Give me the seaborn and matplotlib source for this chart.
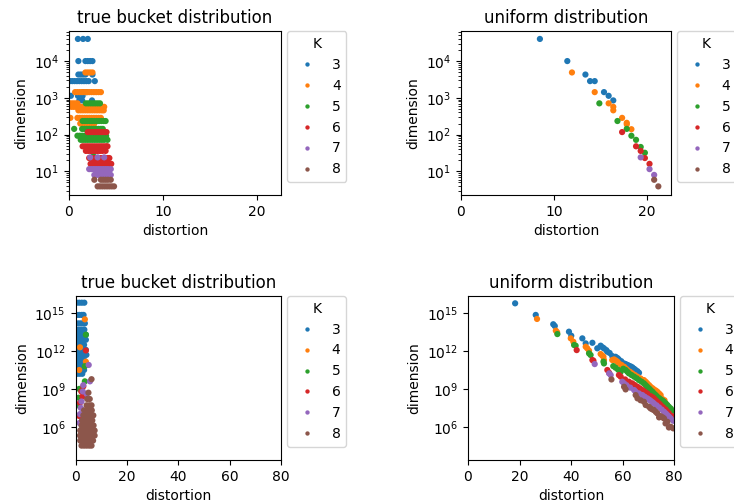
import numpy as np
import pandas as pd
import matplotlib
matplotlib.use("Agg")
import matplotlib.pyplot as plt
from matplotlib.ticker import NullLocator
import seaborn as sns

K_LEVELS = ["3", "4", "5", "6", "7", "8"]

# ---------------------------------------------------------------------------
# true bucket distribution, small dimensions  {dimension: [distortions]}
tb_small_k3 = {40000: [0.95, 1.5, 2.0],
               10000: [1.0, 1.75, 2.0, 2.25, 2.5],
               4300: [1.0, 1.25, 1.5, 1.75, 2.5],
               2850: [0.1, 0.35, 0.6, 0.85, 1.1, 1.35, 1.6, 1.85, 2.1, 2.75],
               1430: [1.5, 1.9],
               1135: [0.2, 0.95, 1.45],
               850: [1.1, 1.4, 2.45]}
tb_small_k4 = {4900: [1.75, 2.0, 2.25, 2.5],
               1430: [0.65, 0.9, 1.15, 1.4, 1.65, 1.9, 2.15, 2.4, 2.65, 2.9, 3.15, 3.4],
               708: [0.15, 0.4, 0.65, 0.9],
               569: [0.25, 0.5, 0.75, 1.0, 1.25, 1.5, 1.75, 2.0, 2.25, 2.5, 2.75, 3.0, 3.25, 3.5, 3.75],
               457: [1.0, 1.25, 1.5, 1.75, 2.0, 2.25, 2.5, 2.75, 3.0, 3.25, 3.5, 3.7],
               285: [0.15, 0.9, 1.15, 1.4, 1.65, 1.9, 2.15, 2.4, 2.65, 2.9, 3.15, 3.4],
               200: [1.2, 1.45, 1.7, 1.95, 2.2, 2.45, 2.7]}
tb_small_k5 = {708: [1.8, 2.05, 2.3, 2.55, 2.8, 3.05, 3.3],
               234: [1.45, 1.7, 1.95, 2.2, 2.45, 2.7, 2.95, 3.2, 3.45, 3.7, 3.9],
               143: [0.55, 1.4, 1.65, 1.9, 2.15, 2.4, 2.65, 2.9, 3.15, 3.4, 3.6],
               93: [0.9, 1.15, 1.4, 1.65, 1.9, 2.15, 2.4, 2.65, 2.9, 3.15, 3.4, 3.65, 3.95],
               72: [1.25, 1.5, 1.75, 2.0, 2.25, 2.5, 2.75, 3.0, 3.25, 3.5, 3.75, 4.1],
               32: [2.6]}
tb_small_k6 = {117: [2.0, 2.25, 2.5, 2.75, 3.0, 3.25, 3.5, 3.75, 4.0],
               48: [1.45, 1.7, 1.95, 2.2, 2.45, 2.7, 2.95, 3.2, 3.45, 3.7, 3.95, 4.1],
               36: [1.8, 2.05, 2.3, 2.55, 2.8, 3.05, 3.3, 3.55, 3.9],
               23: [2.15, 2.4, 2.65, 2.9, 3.15, 3.4, 3.65, 3.9, 4.15, 4.3],
               16: [2.3, 2.55, 2.8, 3.05, 3.3, 3.55, 3.8, 4.05, 4.3, 4.5]}
tb_small_k7 = {24: [2.25, 3.05, 3.75],
               11.5: [2.15, 2.4, 2.65, 2.9, 3.15, 3.4, 3.65, 3.9, 4.15, 4.45],
               8: [2.7, 2.95, 3.2, 3.45, 3.7, 3.95, 4.2, 4.45]}
tb_small_k8 = {5.9: [2.7, 3.4, 3.65, 3.9, 4.15, 4.45],
               3.9: [3.05, 3.3, 3.55, 3.8, 4.05, 4.3, 4.55, 4.8]}

# uniform distribution, small dimensions  (distortion, dimension)
uni_small_k3 = [(8.5, 40000), (11.45, 10000), (13.4, 4300), (13.9, 2850),
                (14.4, 2850), (15.4, 1430), (15.9, 1135), (16.4, 850)]
uni_small_k4 = [(11.95, 4900), (14.4, 1430), (15.9, 708), (16.4, 569), (16.4, 457),
                (17.35, 285), (17.85, 209), (17.85, 190), (18.35, 140)]
uni_small_k5 = [(14.9, 708), (16.85, 234), (17.85, 143), (18.35, 93),
                (18.85, 72), (19.35, 46), (19.8, 32)]
uni_small_k6 = [(17.35, 117), (18.85, 48), (19.35, 36), (19.8, 23), (20.3, 16)]
uni_small_k7 = [(19.35, 24), (20.3, 11.5), (20.8, 8)]
uni_small_k8 = [(20.8, 5.9), (21.25, 3.9)]

# true bucket distribution, large dimensions  {log10 dimension: [distortions]}
tb_large_k3 = {15.84: [0.4, 1.4, 2.4, 3.4],
               14.87: [0.4, 1.4, 2.4, 3.1],
               14.2: [1.0, 2.0, 3.0, 3.6],
               13.7: [0.4, 1.4, 2.4, 3.4],
               13.3: [0.3, 1.3, 2.3, 3.3, 4.0],
               12.9: [0.2, 1.2, 2.2, 3.2, 4.0],
               12.5: [0.3, 1.3, 2.3, 3.3],
               12.1: [0.2, 1.2, 2.2, 3.2, 4.0],
               11.7: [0.3, 1.3, 2.3, 3.3, 4.2],
               11.3: [0.2, 1.2, 2.2, 3.2],
               10.9: [0.2, 1.2, 2.2, 3.2, 4.0],
               10.5: [0.3, 1.3, 2.3, 3.3],
               10.2: [0.6, 1.6, 2.6]}
tb_large_k4 = {14.52: [3.6], 12.3: [1.7], 11.16: [4.0], 10.5: [1.4]}
tb_large_k5 = {13.3: [4.0], 10.8: [3.6], 9.6: [3.6], 9.0: [1.4], 8.3: [1.2], 7.7: [1.0]}
tb_large_k6 = {12.05: [4.0], 9.2: [3.0], 8.8: [2.2], 8.4: [2.7], 7.9: [1.7], 6.85: [1.4]}
tb_large_k7 = {10.9: [5.1], 9.6: [5.6], 9.3: [3.0], 8.8: [2.8], 8.6: [4.3],
               8.0: [2.3], 7.5: [2.0], 7.0: [1.7], 6.3: [1.5]}
tb_large_k8 = {9.77: [6.2],
               8.7: [5.0],
               8.2: [4.5, 5.5],
               7.7: [4.3, 5.3, 6.2],
               7.3: [3.3, 4.3, 5.3, 6.3],
               6.9: [3.0, 4.0, 5.0, 6.0, 6.9],
               6.5: [2.5, 3.5, 4.5, 5.5, 6.5],
               6.1: [2.3, 3.3, 4.3, 5.3, 6.3, 7.0],
               5.7: [1.8, 2.8, 3.8, 4.8, 5.8, 6.8, 7.4],
               5.3: [1.7, 2.7, 3.7, 4.7, 5.7, 6.7, 7.4],
               4.9: [1.8, 2.8, 3.8, 4.8, 5.8, 6.8],
               4.5: [2.3, 3.3, 4.3, 5.3, 6.2]}

# uniform distribution, large dimensions  (distortion, log10 dimension)
uni_large_k3 = [(18.3, 15.79), (26.3, 14.87), (33.1, 14.13), (33.7, 13.99),
                (39.2, 13.54), (40.1, 13.22), (44.4, 13.01), (45.7, 12.61),
                (48.3, 12.66), (50.2, 12.22), (51.5, 12.43), (52.2, 12.3),
                (52.8, 12.22), (53.7, 12.08), (54.1, 11.95), (55.0, 11.85),
                (56.0, 11.61), (57.3, 11.55), (58.0, 11.45), (58.5, 11.35),
                (59.5, 11.2), (60.6, 11.02), (61.2, 10.97), (61.9, 10.9),
                (62.5, 10.84), (63.2, 10.78), (63.8, 10.71), (64.5, 10.6),
                (65.1, 10.5), (65.8, 10.4), (66.4, 10.28)]
uni_large_k4 = [(26.8, 14.55), (34.1, 13.62), (34.6, 13.5), (39.9, 13.01),
                (40.9, 12.74), (45.7, 12.35), (46.3, 12.22), (47.0, 12.03),
                (51.5, 11.77), (52.1, 11.65), (52.6, 11.55), (52.8, 11.29),
                (56.0, 11.29), (56.7, 11.34), (57.4, 11.25), (58.0, 11.16),
                (58.6, 11.02), (59.6, 10.9), (60.6, 10.76), (61.3, 10.62),
                (61.9, 10.5), (62.9, 10.36), (63.8, 10.23), (64.8, 10.1),
                (65.8, 9.97), (67.0, 9.83), (68.3, 9.7), (69.0, 9.57),
                (69.6, 9.44), (70.3, 9.3), (70.9, 9.17), (71.6, 9.06),
                (72.2, 8.96), (72.9, 8.87), (73.5, 8.78), (74.2, 8.64),
                (74.8, 8.51), (75.5, 8.2), (76.3, 8.1)]
uni_large_k5 = [(34.7, 13.35), (41.2, 12.48), (41.8, 12.43), (47.0, 11.82),
                (47.6, 11.69), (52.6, 11.16), (52.8, 11.02), (56.4, 10.81),
                (57.3, 10.68), (58.3, 10.52), (59.3, 10.36), (60.3, 10.6),
                (61.2, 10.5), (61.9, 10.36), (62.5, 10.23), (63.5, 10.1),
                (64.5, 9.97), (65.5, 9.84), (66.4, 9.7), (67.4, 9.57),
                (68.3, 9.44), (69.0, 9.3), (69.6, 9.17), (70.3, 9.04),
                (70.9, 8.91), (71.6, 8.78), (72.2, 8.64), (72.9, 8.51),
                (73.5, 8.38), (74.2, 8.27), (74.8, 8.17), (75.5, 8.08),
                (76.1, 7.98), (76.8, 7.85), (77.4, 7.72), (78.0, 7.58),
                (78.7, 7.45), (79.7, 7.27)]
uni_large_k6 = [(42.2, 12.08), (48.3, 11.29), (48.7, 11.24), (54.1, 10.5),
                (54.8, 10.28), (58.6, 10.1), (59.3, 9.97), (61.0, 9.75),
                (62.5, 9.57), (63.8, 9.44), (64.8, 9.3), (65.8, 9.17),
                (66.8, 9.04), (67.7, 8.91), (68.6, 8.78), (69.6, 8.64),
                (70.9, 8.43), (71.6, 8.34), (72.2, 8.25), (72.9, 8.1),
                (73.5, 7.98), (74.2, 7.85), (74.8, 7.72), (75.7, 7.55),
                (76.7, 7.37), (77.4, 7.2), (78.0, 7.06), (79.3, 6.84)]
uni_large_k7 = [(49.2, 10.97), (54.8, 10.23), (55.4, 10.1), (59.9, 9.57),
                (60.6, 9.44), (61.5, 9.3), (63.0, 9.1), (64.5, 8.91),
                (65.1, 8.78), (66.4, 8.64), (67.7, 8.51), (68.6, 8.38),
                (69.6, 8.25), (70.3, 8.15), (70.9, 8.06), (71.6, 7.95),
                (72.2, 7.85), (73.2, 7.7), (74.2, 7.53), (75.2, 7.36),
                (76.1, 7.19), (76.8, 7.05), (77.4, 6.92), (78.0, 6.8),
                (78.7, 6.66), (79.7, 6.47)]
uni_large_k8 = [(55.7, 9.75), (60.6, 9.17), (61.2, 8.96), (65.1, 8.51),
                (65.8, 8.25), (67.0, 8.1), (68.3, 7.98), (69.0, 7.72),
                (70.3, 7.58), (70.9, 7.45), (71.6, 7.38), (72.2, 7.32),
                (72.9, 7.18), (73.5, 7.06), (74.2, 6.74), (74.8, 6.84),
                (75.5, 6.75), (76.1, 6.66), (76.7, 6.26), (77.4, 6.39),
                (78.0, 5.94), (78.7, 6.0), (79.7, 5.87)]


def frame_from_rows(groups, log_keys=False):
    recs = []
    for k, rows in zip(K_LEVELS, groups):
        for y, dists in rows.items():
            dim = 10.0 ** y if log_keys else y
            for d in dists:
                recs.append((k, d, dim))
    return pd.DataFrame(recs, columns=["K", "distortion", "dimension"])


def frame_from_pairs(groups, log_vals=False):
    recs = []
    for k, pts in zip(K_LEVELS, groups):
        for d, y in pts:
            recs.append((k, d, 10.0 ** y if log_vals else y))
    return pd.DataFrame(recs, columns=["K", "distortion", "dimension"])


true_small = frame_from_rows([tb_small_k3, tb_small_k4, tb_small_k5,
                              tb_small_k6, tb_small_k7, tb_small_k8])
uni_small = frame_from_pairs([uni_small_k3, uni_small_k4, uni_small_k5,
                              uni_small_k6, uni_small_k7, uni_small_k8])
true_large = frame_from_rows([tb_large_k3, tb_large_k4, tb_large_k5,
                              tb_large_k6, tb_large_k7, tb_large_k8], log_keys=True)
uni_large = frame_from_pairs([uni_large_k3, uni_large_k4, uni_large_k5,
                              uni_large_k6, uni_large_k7, uni_large_k8], log_vals=True)

fig = plt.figure(figsize=(7.34, 5.03), dpi=100)
ax_tl = fig.add_axes([0.094, 0.612, 0.289, 0.326])
ax_tr = fig.add_axes([0.628, 0.612, 0.286, 0.326])
ax_bl = fig.add_axes([0.103, 0.0855, 0.280, 0.326])
ax_br = fig.add_axes([0.6376, 0.0855, 0.2807, 0.326])


def draw(ax, df, title):
    sns.scatterplot(data=df, x="distortion", y="dimension", hue="K",
                    hue_order=K_LEVELS, palette="tab10", s=20, linewidth=0,
                    ax=ax)
    ax.set_yscale("log")
    ax.set_title(title)
    sns.move_legend(ax, "upper left", bbox_to_anchor=(1.03, 1),
                    borderaxespad=0, title="K", markerscale=0.7)


draw(ax_tl, true_small, "true bucket distribution")
draw(ax_tr, uni_small, "uniform distribution")
draw(ax_bl, true_large, "true bucket distribution")
draw(ax_br, uni_large, "uniform distribution")

for ax in (ax_tl, ax_tr):
    ax.set_xlim(0, 22.6)
    ax.set_ylim(2.25, 6.5e4)
    ax.set_xticks([0, 10, 20])

for ax in (ax_bl, ax_br):
    ax.set_xlim(0, 80)
    ax.set_ylim(10 ** 3.36, 10 ** 16.37)
    ax.set_xticks([0, 20, 40, 60, 80])
    ax.set_yticks([1e6, 1e9, 1e12, 1e15])
    ax.yaxis.set_minor_locator(NullLocator())

fig.savefig("out.png", dpi=100)
